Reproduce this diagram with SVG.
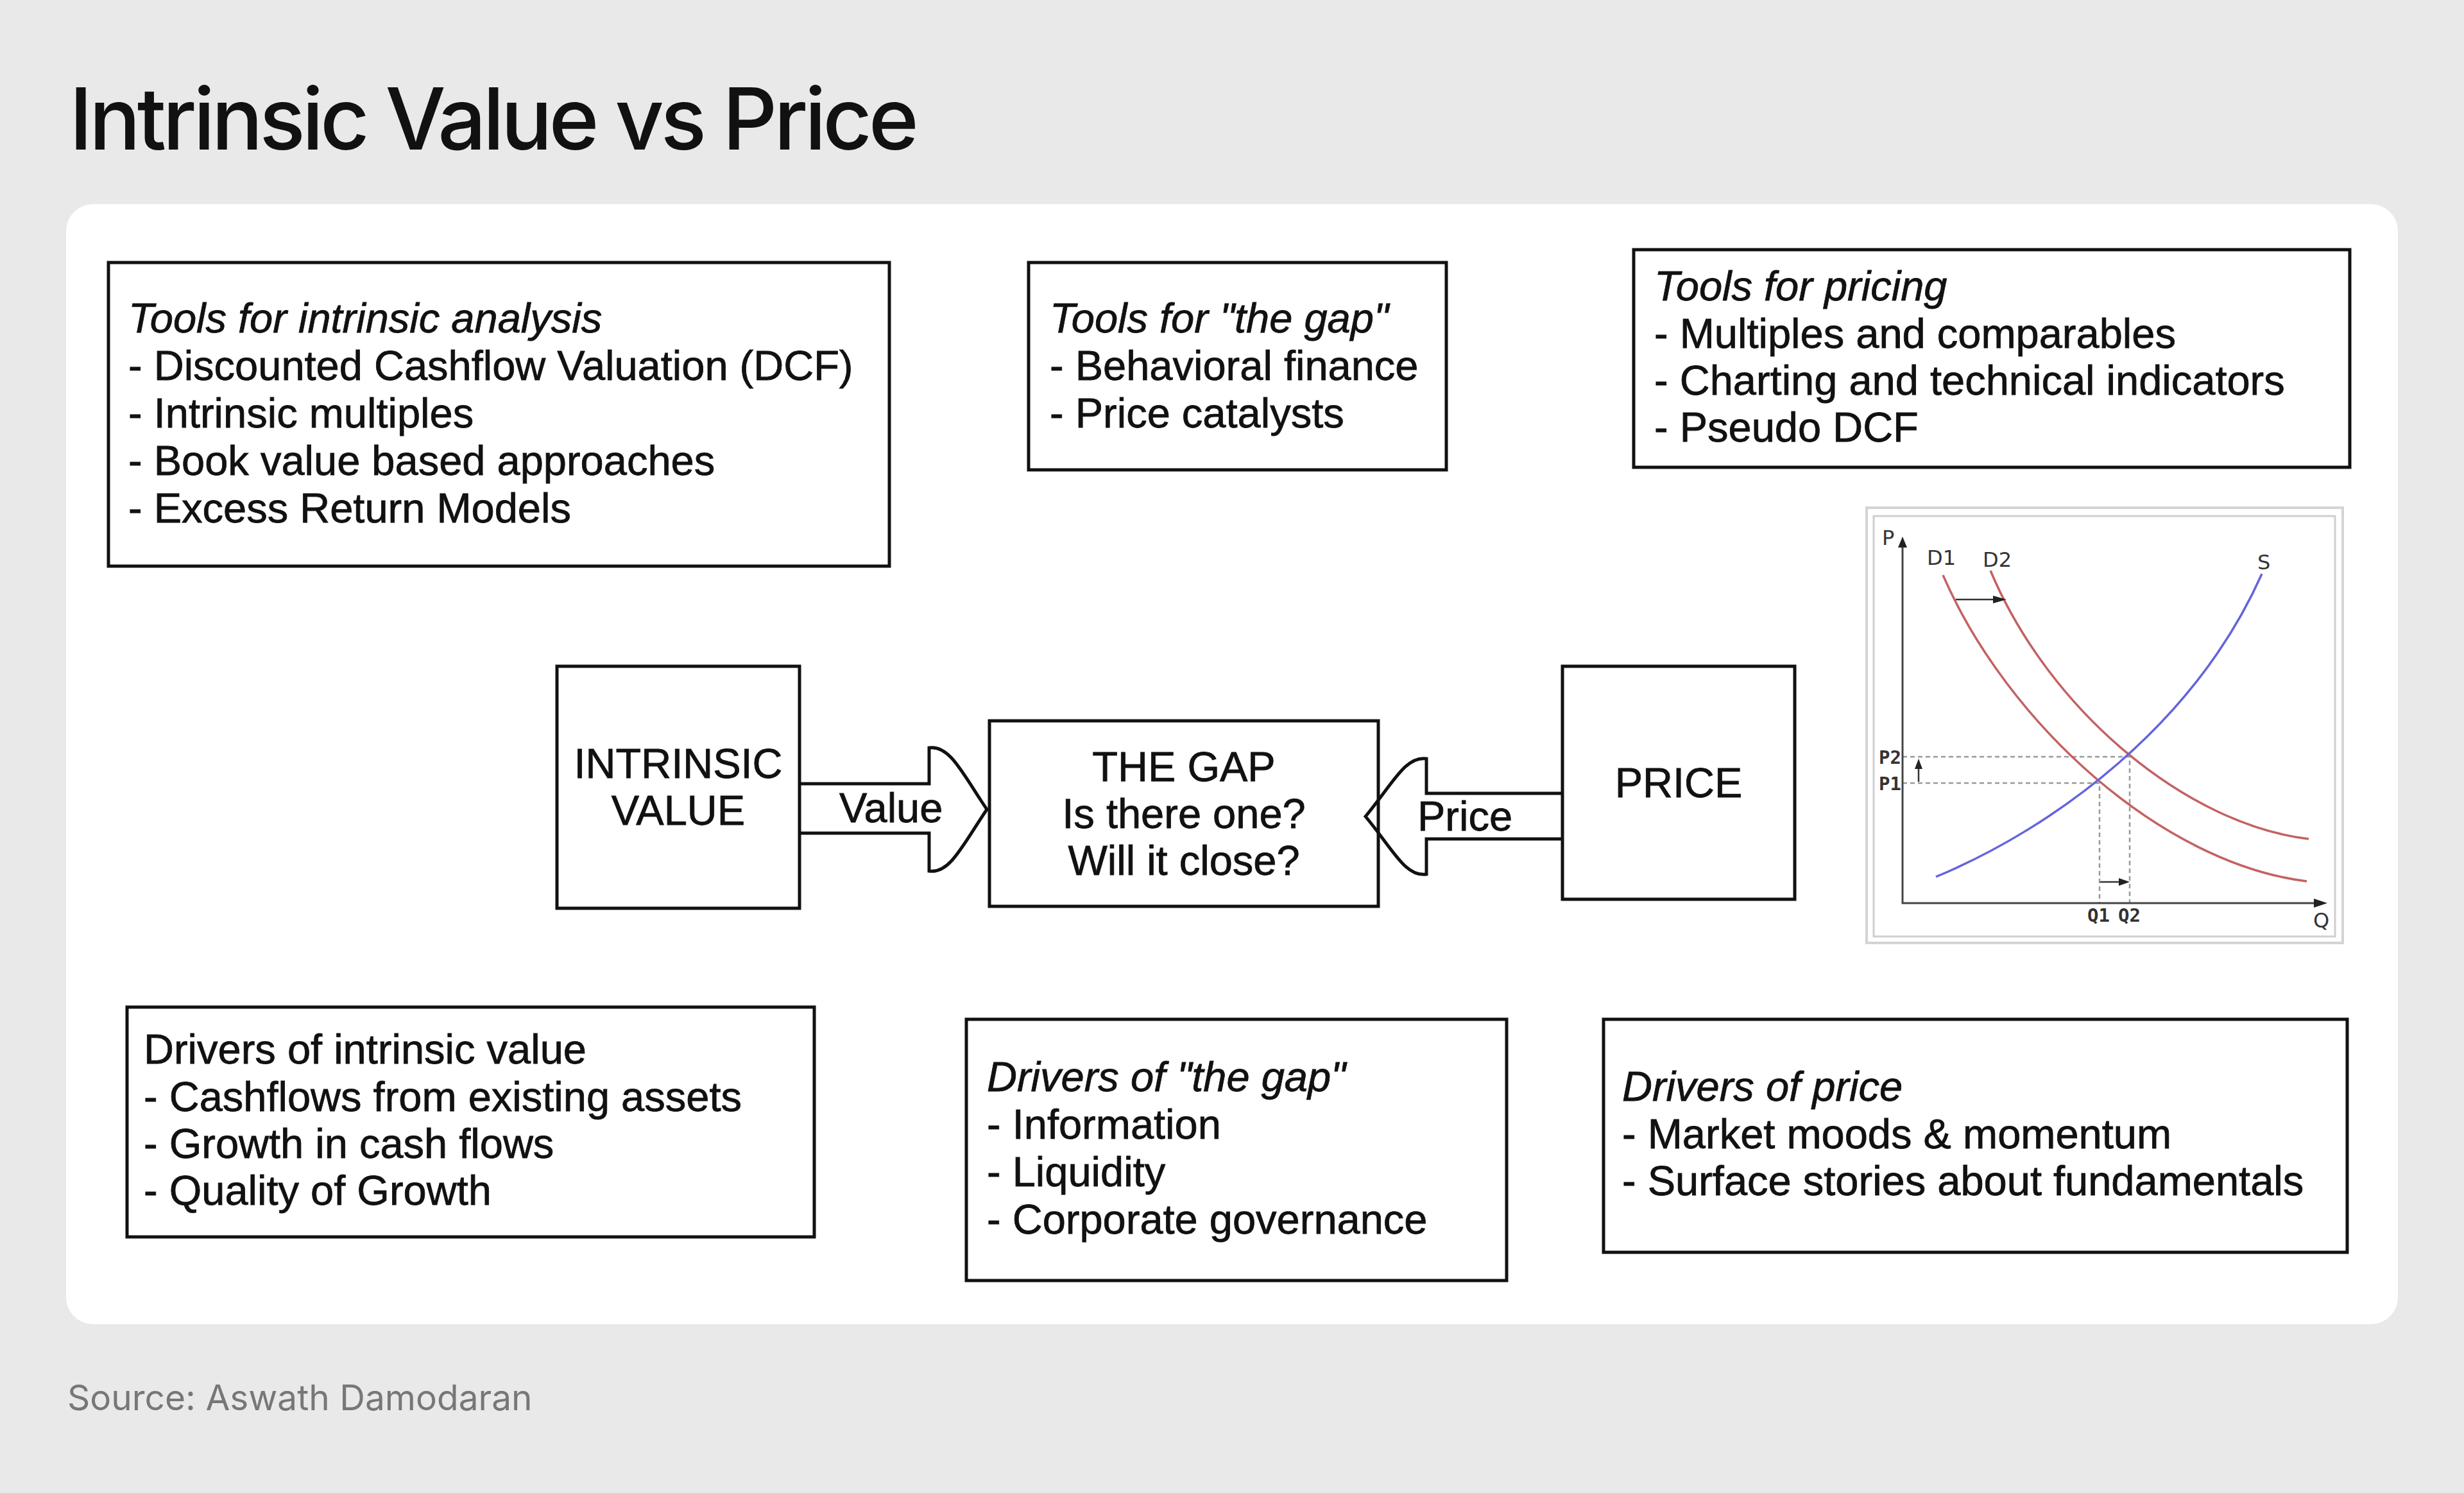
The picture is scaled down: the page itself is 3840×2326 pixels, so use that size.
<svg xmlns="http://www.w3.org/2000/svg" width="3840" height="2326" viewBox="0 0 3840 2326">
<style>
.box{fill:#fff;stroke:#111;stroke-width:5}
.t{font-family:"Liberation Sans",Arial,sans-serif;font-size:65px;fill:#111;stroke:#111;stroke-width:0.8}
.i{font-style:italic}
.c{text-anchor:middle}
.arrow{fill:none;stroke:#111;stroke-width:5;stroke-linejoin:miter}
.ax{stroke:#444;stroke-width:3;fill:none}
.dash{stroke:#999;stroke-width:2.5;stroke-dasharray:7 5;fill:none}
.dem{stroke:#c46262;stroke-width:3.5;fill:none}
.sup{stroke:#6464dc;stroke-width:3.5;fill:none}
.cl{font-family:"DejaVu Sans",sans-serif;font-size:32px;fill:#333}
.cm{font-family:"DejaVu Sans Mono",monospace;font-weight:bold;font-size:29px;fill:#333}
.ah{fill:#222}
</style>
<rect x="0" y="0" width="3840" height="2326" fill="#e9e9e9"/>
<text x="108" y="233" font-family="Inter,'Liberation Sans',sans-serif" font-weight="500" font-size="133" letter-spacing="-5.3" fill="#111">Intrinsic Value vs Price</text>
<rect x="103" y="318" width="3634" height="1745" rx="42" fill="#fff"/>

<g id="tools-intrinsic">
<rect class="box" x="169" y="409" width="1217" height="473"/>
<text class="t i" x="200" y="518">Tools for intrinsic analysis</text>
<text class="t" x="200" y="592">- Discounted Cashflow Valuation (DCF)</text>
<text class="t" x="200" y="666">- Intrinsic multiples</text>
<text class="t" x="200" y="740">- Book value based approaches</text>
<text class="t" x="200" y="814">- Excess Return Models</text>
</g>
<g id="tools-gap">
<rect class="box" x="1603" y="409" width="651" height="323"/>
<text class="t i" x="1636" y="518">Tools for "the gap"</text>
<text class="t" x="1636" y="592">- Behavioral finance</text>
<text class="t" x="1636" y="666">- Price catalysts</text>
</g>
<g id="tools-pricing">
<rect class="box" x="2546" y="389" width="1116" height="339"/>
<text class="t i" x="2578" y="468">Tools for pricing</text>
<text class="t" x="2578" y="542">- Multiples and comparables</text>
<text class="t" x="2578" y="615">- Charting and technical indicators</text>
<text class="t" x="2578" y="688">- Pseudo DCF</text>
</g>

<g id="connectors">
<path class="arrow" d="M1246,1221 H1448 V1165 C1480,1160 1500,1205 1538,1261 C1500,1317 1480,1362 1448,1357 V1298 H1246"/>
<text class="t" x="1308" y="1281">Value</text>
<path class="arrow" d="M2435,1236 H2223 V1182 C2190,1177 2170,1222 2128,1272 C2170,1322 2190,1367 2223,1362 V1307 H2435"/>
<text class="t" x="2209" y="1294">Price</text>
</g>

<g id="intrinsic-value">
<rect class="box" x="868" y="1038" width="378" height="377"/>
<text class="t c" x="1057" y="1212">INTRINSIC</text>
<text class="t c" x="1057" y="1285">VALUE</text>
</g>
<g id="the-gap">
<rect class="box" x="1542" y="1123" width="606" height="289" style="fill:none"/>
<text class="t c" x="1845" y="1217">THE GAP</text>
<text class="t c" x="1845" y="1290">Is there one?</text>
<text class="t c" x="1845" y="1363">Will it close?</text>
</g>
<g id="price">
<rect class="box" x="2435" y="1038" width="362" height="363"/>
<text class="t c" x="2616" y="1242">PRICE</text>
</g>

<g id="supply-demand-chart">
<rect x="2909" y="791" width="742" height="678" fill="#fff" stroke="#d4d4d4" stroke-width="4"/>
<rect x="2920" y="804" width="719" height="655" fill="none" stroke="#cfcfcf" stroke-width="3"/>
<path class="dash" d="M2965,1179 H3319 V1407 M2965,1220 H3272 V1407"/>
<path class="dem" d="M3028,896 C3130,1130 3370,1345 3595,1373"/>
<path class="dem" d="M3102,889 C3195,1110 3410,1285 3598,1307"/>
<path class="sup" d="M3017,1366 C3200,1290 3420,1130 3525,894"/>
<path class="ax" d="M2965,850 V1407 H3610"/>
<polygon class="ah" points="2965,836 2958,853 2972,853"/>
<polygon class="ah" points="3627,1407 3606,1400 3606,1414"/>
<path d="M3048,934 H3110" stroke="#333" stroke-width="2.5"/>
<polygon class="ah" points="3127,934 3106,928 3106,940"/>
<path d="M2990,1218 V1196" stroke="#333" stroke-width="2.5"/>
<polygon class="ah" points="2990,1182 2984,1198 2996,1198"/>
<path d="M3273,1374 H3304" stroke="#333" stroke-width="2.5"/>
<polygon class="ah" points="3319,1374 3302,1368 3302,1380"/>
<text class="cl" x="2933" y="849" font-size="30">P</text>
<text class="cl" x="3003" y="880">D1</text>
<text class="cl" x="3090" y="883">D2</text>
<text class="cl" x="3518" y="887">S</text>
<text class="cm" x="2928" y="1190">P2</text>
<text class="cm" x="2928" y="1231">P1</text>
<text class="cm" x="3253" y="1436">Q1</text>
<text class="cm" x="3301" y="1436">Q2</text>
<text class="cl" x="3605" y="1445" font-size="30">Q</text>
</g>

<g id="drivers-intrinsic">
<rect class="box" x="198" y="1569" width="1071" height="358"/>
<text class="t" x="224" y="1657">Drivers of intrinsic value</text>
<text class="t" x="224" y="1731">- Cashflows from existing assets</text>
<text class="t" x="224" y="1804">- Growth in cash flows</text>
<text class="t" x="224" y="1877">- Quality of Growth</text>
</g>
<g id="drivers-gap">
<rect class="box" x="1506" y="1588" width="842" height="407"/>
<text class="t i" x="1538" y="1700">Drivers of "the gap"</text>
<text class="t" x="1538" y="1774">- Information</text>
<text class="t" x="1538" y="1848">- Liquidity</text>
<text class="t" x="1538" y="1922">- Corporate governance</text>
</g>
<g id="drivers-price">
<rect class="box" x="2499" y="1588" width="1159" height="363"/>
<text class="t i" x="2528" y="1715">Drivers of price</text>
<text class="t" x="2528" y="1789">- Market moods &amp; momentum</text>
<text class="t" x="2528" y="1862">- Surface stories about fundamentals</text>
</g>

<text x="105" y="2197" font-family="Inter,'Liberation Sans',sans-serif" font-size="55" fill="#777">Source: Aswath Damodaran</text>
</svg>
